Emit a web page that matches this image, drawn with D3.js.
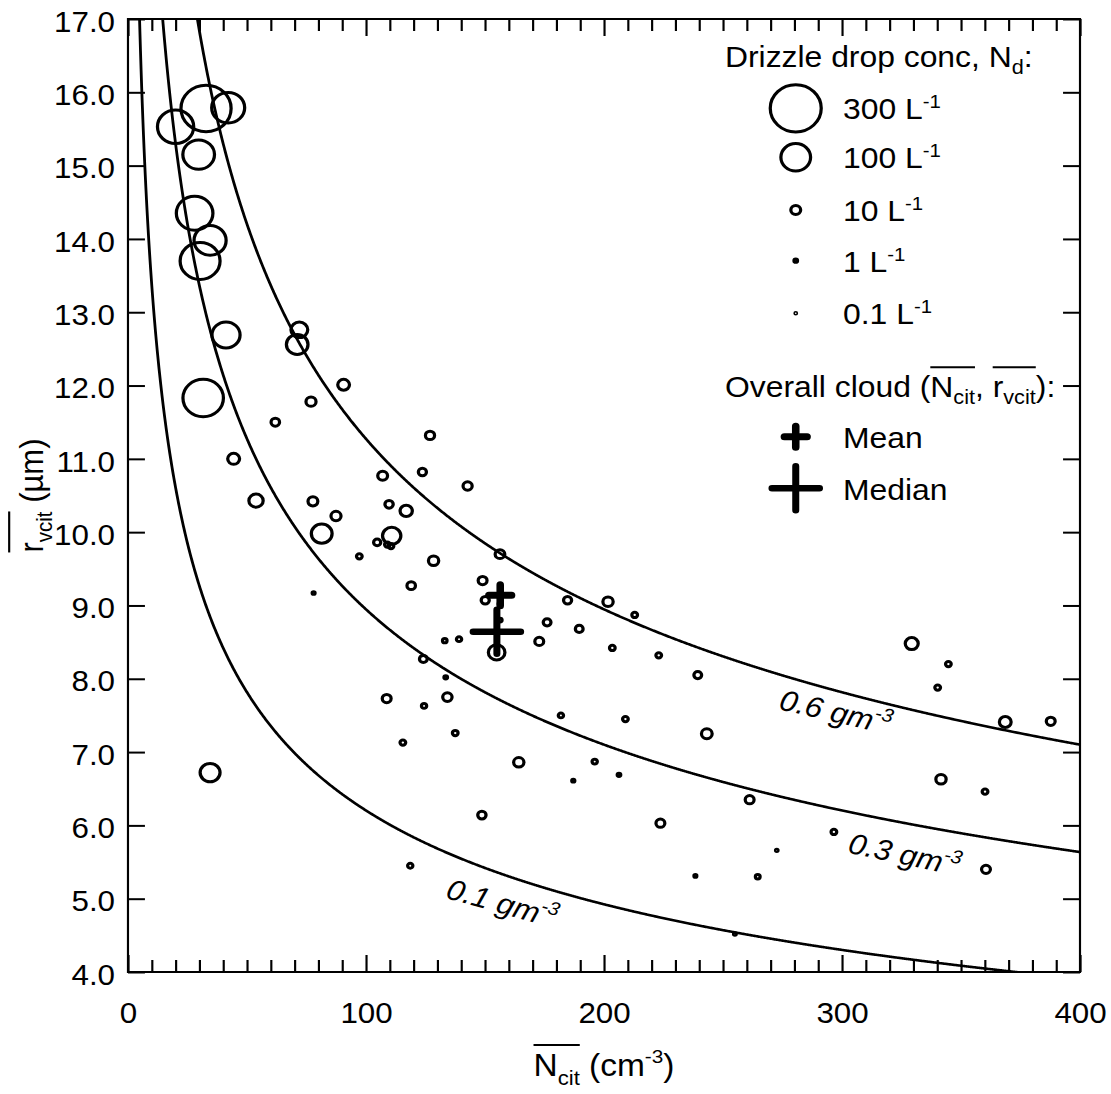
<!DOCTYPE html>
<html>
<head>
<meta charset="utf-8">
<script src="https://cdn.jsdelivr.net/npm/d3@7"></script>
<style>
  html, body { margin: 0; padding: 0; background: #fff; }
  svg { display: block; }
  text { font-family: "Liberation Sans", Arial, Helvetica, sans-serif; fill: #000; white-space: pre; }
</style>
</head>
<body>
<svg id="chart"></svg>
<script>
// ---- Cloud-averaged droplet number (cm^-3), volume radius (µm) and drizzle drop concentration (L^-1)
const cloudN = [32.8, 42.1, 20.0, 29.7, 28.0, 34.5, 30.3, 41.2, 72.0, 71.1,
  31.6, 90.6, 76.9, 61.9, 44.4, 53.8, 77.7, 87.4, 81.4, 107.0,
  109.7, 110.8, 104.7, 109.0, 110.5, 97.2, 126.9, 123.7, 142.7, 116.9,
  128.4, 156.3, 119.0, 149.0, 78.0, 150.1, 156.3, 156.3, 154.9, 184.7,
  201.7, 212.9, 176.1, 189.6, 172.8, 203.5, 133.1, 139.1, 124.1, 133.5,
  223.0, 239.4, 329.3, 344.7, 340.2, 368.6, 387.7, 209.0, 243.2, 206.3,
  341.6, 360.1, 261.2, 223.7, 296.6, 272.6, 34.5, 108.7, 124.4, 134.2,
  137.5, 115.5, 181.9, 164.2, 196.1, 187.1, 148.7, 118.6, 238.4, 264.6,
  360.5, 255.0];
const cloudR = [15.78, 15.79, 15.53, 15.15, 14.35, 13.98, 13.70, 12.69, 12.76, 12.56,
  11.83, 12.01, 11.78, 11.50, 11.00, 10.43, 10.42, 10.22, 9.98, 10.77,
  10.38, 9.95, 9.86, 9.83, 9.81, 9.67, 11.32, 10.82, 10.63, 10.29,
  9.61, 9.70, 9.27, 9.34, 9.17, 9.07, 9.02, 8.80, 8.36, 9.07,
  9.05, 8.87, 8.77, 8.68, 8.51, 8.42, 8.52, 8.54, 8.27, 8.02,
  8.32, 8.05, 8.48, 8.20, 7.88, 7.41, 7.42, 7.45, 7.25, 6.69,
  6.63, 6.46, 6.35, 6.03, 5.91, 5.66, 6.72, 7.73, 7.63, 7.75,
  7.26, 7.13, 7.50, 6.86, 6.87, 6.61, 6.14, 5.45, 5.31, 5.30,
  5.40, 4.52];
const drizzleNd = [290, 124, 150, 114, 153, 117, 183, 89, 31, 52,
  188, 14.6, 10.5, 7.3, 15, 22, 10, 10.5, 48, 10,
  7, 37, 5, 3, 3, 3, 8.5, 6.6, 8.5, 16,
  11, 9.6, 7.3, 8, 0.6, 6.6, 1, 1.5, 30, 6.6,
  11, 3, 6, 6, 8, 3, 1.8, 2.5, 6, 1,
  3, 6, 18, 3, 3, 14.6, 8, 3, 12, 1,
  11, 3, 8, 8, 3, 0.4, 44, 8, 2.5, 9,
  3, 3, 2.5, 11, 2.5, 0.7, 7, 2.5, 0.6, 2,
  8, 0.5];

// ---- Overall cloud statistics
const statNames = ["Mean", "Median"];
const statN = [156.4, 155.0];
const statR = [9.14, 8.64];

// ---- Liquid water content isopleths (g m^-3)
const lwcLevels = [0.1, 0.3, 0.6];

// ---- Legend entries for drizzle concentration (L^-1)
const legendNd = [300, 100, 10, 1, 0.1];
const legendNdLabels = ["300", "100", "10", "1", "0.1"];

// ---- Axis ticks
const xMajorTicks = [0, 100, 200, 300, 400];
const yTickValues = [4, 5, 6, 7, 8, 9, 10, 11, 12, 13, 14, 15, 16, 17];

// ---- Layout (drawn in a frame that is widened 8% horizontally)
const W = 1111, H = 1094, SX = 1.08;
const VW = W / SX;
const plot = { left: 118.5, right: 1000, top: 19, bottom: 972 };
const FONT_TICK = 29, FONT_LEG = 29.5, FONT_TITLE = 31, FONT_CURVE = 29;
const RING_STROKE = 3;

const svg = d3.select("#chart")
  .attr("width", W).attr("height", H)
  .attr("viewBox", `0 0 ${VW} ${H}`)
  .attr("preserveAspectRatio", "none");

const x = d3.scaleLinear().domain([0, 400]).range([plot.left, plot.right]);
const y = d3.scaleLinear().domain([4, 17]).range([plot.bottom, plot.top]);
// ring radius grows with the square root of the drizzle concentration
const rad = d3.scaleSqrt().domain([0, 300]).range([0.3, 23.6]);

svg.append("defs").append("clipPath").attr("id", "plotclip")
  .append("rect")
  .attr("x", plot.left).attr("y", plot.top)
  .attr("width", plot.right - plot.left).attr("height", plot.bottom - plot.top);

// ---- Axes with inward ticks
function styleAxis(g) {
  g.select(".domain").remove();
  g.selectAll(".tick line").attr("stroke", "#000").attr("stroke-width", 2);
  g.selectAll(".tick text").attr("fill", "#000")
    .style("font-family", "'Liberation Sans', Arial, Helvetica, sans-serif")
    .style("font-size", FONT_TICK + "px");
}
const minorX = d3.range(0, 401, 10);

const gBottom = svg.append("g").attr("transform", `translate(0,${plot.bottom})`)
  .call(d3.axisBottom(x).tickValues(minorX).tickSize(-12).tickPadding(30)
    .tickFormat(d => xMajorTicks.includes(d) ? d3.format("d")(d) : ""));
styleAxis(gBottom);
gBottom.selectAll(".tick").filter(d => xMajorTicks.includes(d)).select("line").attr("y2", -17);

const gTop = svg.append("g").attr("transform", `translate(0,${plot.top})`)
  .call(d3.axisTop(x).tickValues(minorX).tickSize(-12).tickFormat(""));
styleAxis(gTop);
gTop.selectAll(".tick").filter(d => xMajorTicks.includes(d)).select("line").attr("y2", 17);

const gLeft = svg.append("g").attr("transform", `translate(${plot.left},0)`)
  .call(d3.axisLeft(y).tickValues(yTickValues).tickSize(-15.7).tickPadding(12)
    .tickFormat(d3.format(".1f")));
styleAxis(gLeft);
gLeft.selectAll(".tick text").attr("dy", "0.42em");

const gRight = svg.append("g").attr("transform", `translate(${plot.right},0)`)
  .call(d3.axisRight(y).tickValues(yTickValues).tickSize(-15.7).tickFormat(""));
styleAxis(gRight);

svg.append("rect")
  .attr("x", plot.left).attr("y", plot.top)
  .attr("width", plot.right - plot.left).attr("height", plot.bottom - plot.top)
  .attr("fill", "none").attr("stroke", "#000").attr("stroke-width", 2);

// ---- LWC isopleths: LWC = (4/3) pi rho_w r^3 N
const LWC_PER_R3N = 4 / 3 * Math.PI * 1e-6;   // g m^-3 per (µm^3 cm^-3)
const rForLwc = (lwc, n) => Math.cbrt(lwc / (LWC_PER_R3N * n));
const nSamples = d3.range(0.5, 400.25, 0.25);
const line = d3.line().x(d => x(d[0])).y(d => y(d[1]));

const gCurves = svg.append("g").attr("clip-path", "url(#plotclip)");
lwcLevels.forEach(lwc => {
  const pts = nSamples.map(n => [n, Math.min(rForLwc(lwc, n), 30)]);
  gCurves.append("path").attr("d", line(pts))
    .attr("fill", "none").attr("stroke", "#000").attr("stroke-width", 2.6);
});

// Curve labels: start position (N), gap below the curve (px) and rotation (deg)
const curveLabelLayout = [
  { n: 133, gap: 46, angle: 16.6 },
  { n: 302, gap: 41, angle: 12.9 },
  { n: 273, gap: 35, angle: 14.0 }
];
lwcLevels.forEach((lwc, i) => {
  const L = curveLabelLayout[i];
  const px = x(L.n), py = y(rForLwc(lwc, L.n)) + L.gap;
  const t = svg.append("text")
    .attr("transform", `translate(${px},${py}) rotate(${L.angle})`)
    .style("font-size", FONT_CURVE + "px").style("font-style", "italic");
  t.append("tspan").text(`${lwc} gm`);
  t.append("tspan").attr("dy", -12).style("font-size", "19px").text("-3");
});

// ---- Data points: ring size scales with drizzle drop concentration
const points = cloudN.map((n, i) => ({ n, r: cloudR[i], nd: drizzleNd[i] }));
svg.append("g").selectAll("circle").data(points).join("circle")
  .attr("cx", d => x(d.n)).attr("cy", d => y(d.r)).attr("r", d => rad(d.nd))
  .attr("fill", "none").attr("stroke", "#000").attr("stroke-width", RING_STROKE);

// ---- Mean / median crosses
const crossStyle = [{ half: 10.5, width: 7 }, { half: 22, width: 6.5 }];
const crossPath = (cx, cy, h) => `M${cx - h},${cy}H${cx + h}M${cx},${cy - h}V${cy + h}`;
statNames.forEach((name, i) => {
  svg.append("path")
    .attr("d", crossPath(x(statN[i]), y(statR[i]), crossStyle[i].half))
    .attr("fill", "none").attr("stroke", "#000")
    .attr("stroke-width", crossStyle[i].width).attr("stroke-linecap", "round");
});

// ---- Rich text helper (subscripts, superscripts, overlines)
function richText(parent, parts, size, anchor) {
  const outer = parent.append("g");
  const inner = outer.append("g");
  let cx = 0;
  const spans = {};
  parts.forEach(p => {
    const s = size * (p.scale || 1);
    const t = inner.append("text").attr("x", cx).attr("y", p.shift || 0)
      .style("font-size", s + "px").text(p.t);
    const w = t.node().getComputedTextLength();
    if (p.over) {
      const o = spans[p.over] || (spans[p.over] = { x0: cx, x1: cx + w });
      o.x1 = cx + w;
    }
    cx += w;
  });
  Object.values(spans).forEach(o => {
    inner.append("line").attr("x1", o.x0).attr("x2", o.x1)
      .attr("y1", -size * 1.0).attr("y2", -size * 1.0)
      .attr("stroke", "#000").attr("stroke-width", 2);
  });
  if (anchor === "middle") inner.attr("transform", `translate(${-cx / 2},0)`);
  return outer;
}

// ---- Axis titles
richText(svg, [
  { t: "N", over: "a" },
  { t: "cit", scale: 0.66, shift: 9, over: "a" },
  { t: " (cm" },
  { t: "-3", scale: 0.62, shift: -13 },
  { t: ")" }
], FONT_TITLE, "middle")
  .attr("transform", `translate(${(plot.left + plot.right) / 2},1076)`);

richText(svg, [
  { t: "r", over: "a" },
  { t: "vcit", scale: 0.66, shift: 9, over: "a" },
  { t: " (µm)" }
], FONT_TITLE, "middle")
  .attr("transform", `translate(39.5,${(plot.top + plot.bottom) / 2}) rotate(-90)`);

// ---- Legend
const legX = 671.3, legMarkX = 736.8, legTextX = 780.6;
richText(svg, [
  { t: "Drizzle drop conc, N" },
  { t: "d", scale: 0.68, shift: 7 },
  { t: ":" }
], FONT_LEG).attr("transform", `translate(${legX},66.7)`);

const legRowY = [108.3, 157.3, 210, 260.7, 313.3];
legendNd.forEach((nd, i) => {
  svg.append("circle").attr("cx", legMarkX).attr("cy", legRowY[i]).attr("r", rad(nd))
    .attr("fill", "none").attr("stroke", "#000").attr("stroke-width", RING_STROKE);
  richText(svg, [
    { t: legendNdLabels[i] + " L" },
    { t: "-1", scale: 0.64, shift: -11 }
  ], FONT_LEG).attr("transform", `translate(${legTextX},${legRowY[i] + 11})`);
});

richText(svg, [
  { t: "Overall cloud (" },
  { t: "N", over: "n" },
  { t: "cit", scale: 0.68, shift: 7, over: "n" },
  { t: ", " },
  { t: "r", over: "r" },
  { t: "vcit", scale: 0.68, shift: 7, over: "r" },
  { t: "):" }
], FONT_LEG).attr("transform", `translate(${legX},396.7)`);

const statRowY = [436.7, 488.3];
statNames.forEach((name, i) => {
  svg.append("path")
    .attr("d", crossPath(legMarkX, statRowY[i], crossStyle[i].half))
    .attr("fill", "none").attr("stroke", "#000")
    .attr("stroke-width", crossStyle[i].width).attr("stroke-linecap", "round");
  svg.append("text").attr("x", legTextX).attr("y", statRowY[i] + 11.5)
    .style("font-size", FONT_LEG + "px").text(name);
});
</script>
</body>
</html>
